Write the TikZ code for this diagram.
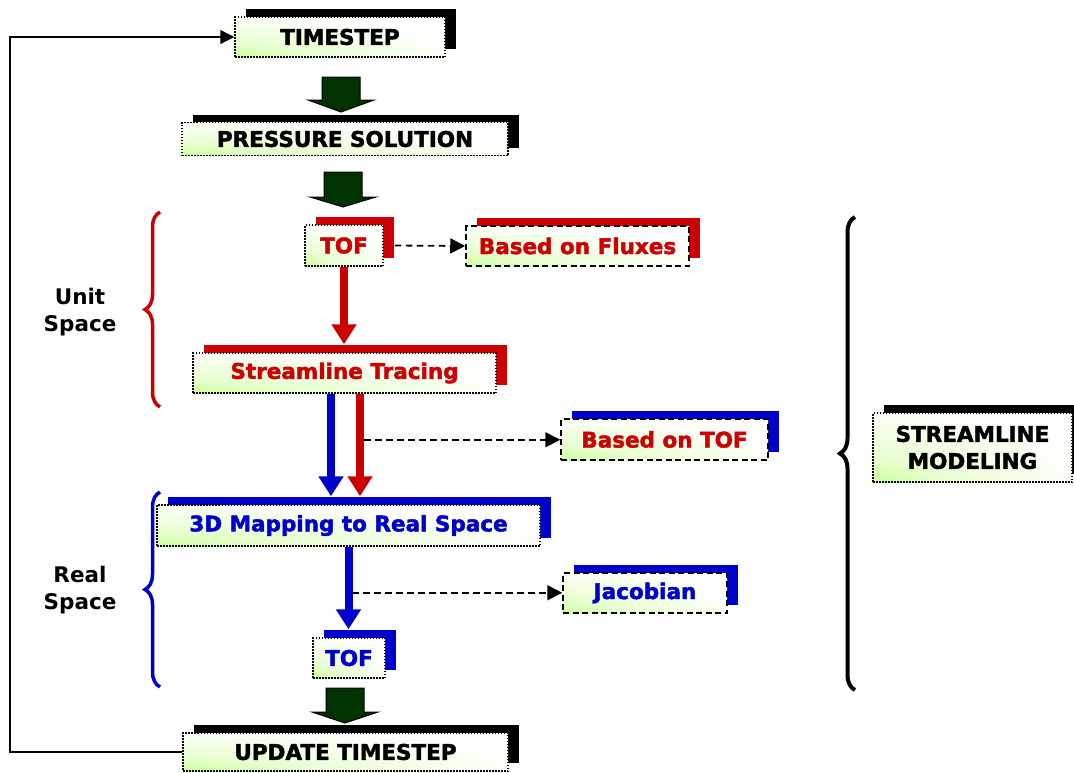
\documentclass[tikz,border=0pt]{standalone}
\usepackage{fontspec}
\setmainfont{DejaVu Sans}
\newfontfamily\boxfont{DejaVu Sans}[FakeBold=2]
\usetikzlibrary{arrows.meta,shadows,decorations.pathreplacing,calc}
\definecolor{lgreen}{RGB}{153,255,51}
\colorlet{lgreenA}{lgreen!70!white}
\colorlet{lgreenB}{lgreen!22!white}
\definecolor{dred}{RGB}{204,0,0}
\definecolor{dblue}{RGB}{0,0,204}
\definecolor{fgreen}{RGB}{0,51,0}
\pgfdeclareradialshading{boxshade}{\pgfpoint{-50bp}{-50bp}}{color(0bp)=(lgreen); color(14bp)=(lgreenA); color(36bp)=(lgreenB); color(62bp)=(white); color(160bp)=(white)}
\tikzset{
  boxbase/.style={rectangle, inner sep=0pt, shade, shading=boxshade, line width=1.5pt,
    font=\boxfont\bfseries\fontsize{21.5}{27}\selectfont, align=center,
    general shadow={shadow xshift=11pt, shadow yshift=8pt, fill=#1}},
  dotbox/.style={boxbase=#1, draw=black, dash pattern=on 1.5pt off 1.5pt},
  dashbox/.style={boxbase=#1, draw=black, dash pattern=on 6pt off 3.5pt},
  lab/.style={font=\bfseries\fontsize{21.5}{27}\selectfont, align=center, inner sep=0pt},
  fat/.style={fill=fgreen, draw=black, line width=1pt, line join=miter},
  fatline/.style={line width=8pt, -{Triangle[width=24pt,length=20pt]}},
  dasharrow/.style={draw=black, line width=1.8pt, dash pattern=on 6.5pt off 4.5pt, -{Triangle[width=15pt,length=15pt]}},
  fb/.style={draw=black, line width=1.5pt, -{Triangle[width=14pt,length=14pt]}},
  bracestyle/.style={line width=3.5pt, decorate, decoration={brace, amplitude=15pt}},
}
\newcommand\fatarrow[4]{%
  \filldraw[fat] (#1-19,#2) -- (#1+19,#2) -- (#1+19,#3) -- (#1+33,#3) -- (#1,#4) -- (#1-33,#3) -- (#1-19,#3) -- cycle;}
\begin{document}
\begin{tikzpicture}[x=1pt,y=-1pt]
\useasboundingbox (0,0) rectangle (1074,772);
% boxes
\node[dotbox=black, minimum width=210pt, minimum height=40pt] (ts) at (340,37) {TIMESTEP};
\node[dotbox=black, minimum width=326pt, minimum height=33pt] (ps) at (345,139) {PRESSURE SOLUTION};
\node[dotbox=dred, text=dred, minimum width=78pt, minimum height=41pt] (tof1) at (344,245.5) {TOF};
\node[dashbox=dred, text=dred, minimum width=223pt, minimum height=40pt] (flux) at (577.5,246) {Based on Fluxes};
\node[dotbox=dred, text=dred, minimum width=303pt, minimum height=40pt] (st) at (344.5,373) {Streamline Tracing};
\node[dashbox=dblue, text=dred, minimum width=207pt, minimum height=41pt] (btof) at (664.5,439.5) {Based on TOF};
\node[dotbox=dblue, text=dblue, minimum width=383pt, minimum height=41pt] (map) at (348.5,525.5) {3D Mapping to Real Space};
\node[dashbox=dblue, text=dblue, minimum width=164pt, minimum height=40pt] (jac) at (645,593) {Jacobian};
\node[dotbox=dblue, text=dblue, minimum width=72pt, minimum height=40pt] (tof2) at (349,658) {TOF};
\node[dotbox=black, minimum width=325pt, minimum height=38pt] (up) at (345.5,752) {UPDATE TIMESTEP};
\node[dotbox=black, minimum width=199pt, minimum height=69pt] (sm) at (972.5,447.5) {STREAMLINE\\MODELING};
% labels
\node[lab] (us) at (80,312) {Unit\\Space};
\node[lab] (rs) at (80,590) {Real\\Space};
% fat green arrows
\fatarrow{341}{77}{100}{112}
\fatarrow{343}{172}{197}{207}
\fatarrow{345}{688}{712}{723}
% dashed connectors
\draw[dasharrow] ([xshift=11pt]tof1.east) -- (flux.west);
\coordinate (r1) at ($([xshift=19.5pt]st.south)+(0,46)$);
\draw[dasharrow] (r1) -- (r1 -| btof.west);
\coordinate (b2) at ($([xshift=3.5pt]map.south)+(0,46)$);
\draw[dasharrow] (b2) -- (b2 -| jac.west);
% thick coloured arrows
\draw[fatline, dred] (tof1.south) -- ([yshift=8pt]tof1.south |- st.north);
\draw[fatline, dblue] ([xshift=-13.5pt]st.south) -- ([xshift=-17.5pt,yshift=8pt]map.north);
\draw[fatline, dred] ([xshift=15.5pt]st.south) -- ([xshift=11.5pt,yshift=8pt]map.north);
\draw[fatline, dblue] (map.south) -- ([yshift=8pt]map.south |- tof2.north);
% feedback
\draw[fb] (up.west) -- (10,752) |- (ts.west);
% braces
\draw[bracestyle, dred] (160,407) -- (160,212);
\draw[bracestyle, dblue] (160,687) -- (160,492);
\draw[bracestyle, black, line width=4pt] (855,690) -- (855,217);
\end{tikzpicture}
\end{document}
